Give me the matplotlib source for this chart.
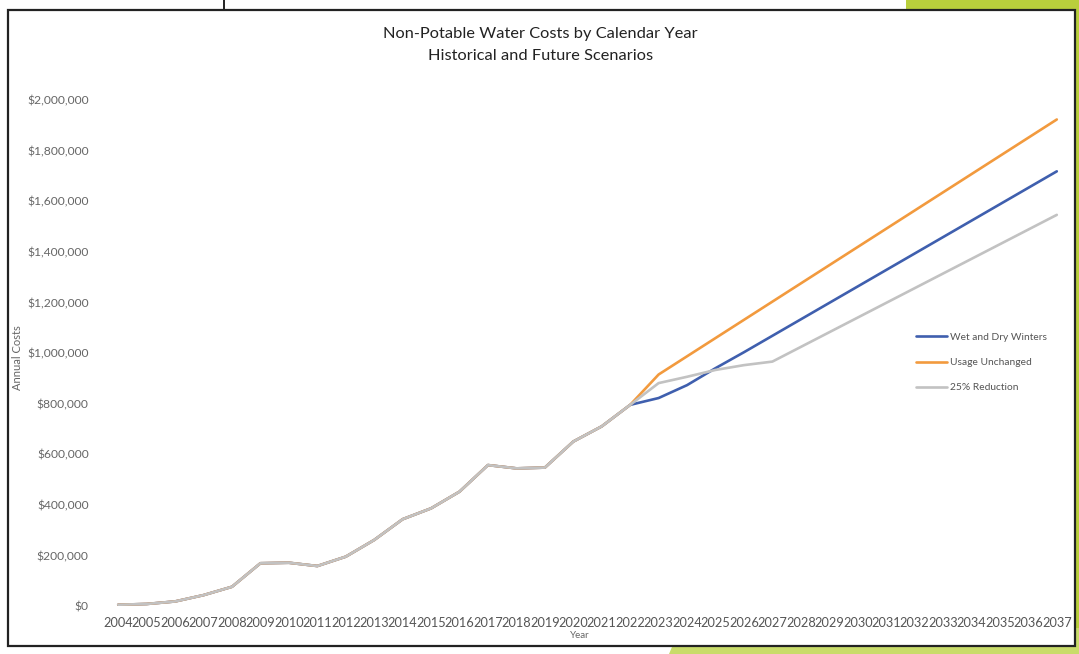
import matplotlib.pyplot as plt
from matplotlib.patches import Rectangle, Polygon
from matplotlib.ticker import FuncFormatter

years = list(range(2004, 2038))

# shared history up to 2022, then the three scenarios
historical = [5000, 8000, 18000, 43000, 76000, 169000, 171000, 158000, 195000,
              261000, 343000, 386000, 452000, 557000, 544000, 547000, 650000,
              710000, 795000]
wet_dry = [822000, 873000, 940000, 1003000, 1068000, 1133000, 1198000, 1263000,
           1328000, 1393000, 1458000, 1523000, 1588000, 1653000, 1718000]
unchanged = [915000, 987000, 1059000, 1131000, 1203000, 1275000, 1347000,
             1419000, 1491000, 1563000, 1635000, 1707000, 1779000, 1851000,
             1923000]
reduction = [881000, 906000, 933000, 952000, 966000, 1024000, 1082000, 1140000,
             1198000, 1256000, 1314000, 1372000, 1430000, 1488000, 1546000]

series = [
    ("Wet and Dry Winters", historical + wet_dry, "#3f5fae"),
    ("Usage Unchanged", historical + unchanged, "#f29a3e"),
    ("25% Reduction", historical + reduction, "#c2c2c2"),
]

plt.rcParams['font.family'] = ['Lato', 'DejaVu Sans']

fig = plt.figure(figsize=(10.79, 6.54), dpi=100)
fig.patch.set_facecolor("white")

# paper edge below / right of the printed frame
fig.patches.append(Polygon([[0.62, 0.0], [1.0, 0.0], [1.0, 0.04], [0.63, 0.04]],
                           closed=True, transform=fig.transFigure,
                           facecolor="#c9dc6a", edgecolor="none", zorder=0))
fig.patches.append(Polygon([[0.84, 1.0], [1.0, 1.0], [1.0, 0.04], [0.997, 0.04],
                            [0.997, 0.985], [0.84, 0.985]],
                           closed=True, transform=fig.transFigure,
                           facecolor="#b9cf3c", edgecolor="none", zorder=0))
fig.patches.append(Rectangle((0.0075, 0.012), 0.989, 0.973,
                             transform=fig.transFigure, facecolor="white",
                             edgecolor="#222222", linewidth=1.6, zorder=1))
fig.lines.append(plt.Line2D([0.2075, 0.2075], [0.985, 1.0],
                            transform=fig.transFigure, color="#222222", lw=1.4))

ax = fig.add_axes([0.0964, 0.0734, 0.8962, 0.7737])
ax.set_facecolor("none")
ax.set_zorder(3)

x = list(range(len(years)))
for name, vals, color in series:
    ax.plot(x, vals, color=color, lw=1.9, label=name, solid_capstyle="round")

ax.set_xlim(-0.5, len(years) - 0.5)
ax.set_ylim(0, 2000000)
ax.set_xticks(x)
ax.set_xticklabels([str(y) for y in years])
ax.set_yticks(range(0, 2000001, 200000))
ax.yaxis.set_major_formatter(FuncFormatter(lambda v, p: "${:,.0f}".format(v)))

ax.tick_params(axis="x", length=0, pad=8, labelsize=9.2, labelcolor="#555555")
ax.tick_params(axis="y", length=0, pad=11, labelsize=8.7, labelcolor="#666666")
for s in ax.spines.values():
    s.set_visible(False)

ax.set_xlabel("Year", fontsize=7, color="#666666")
ax.xaxis.set_label_coords(0.492, -0.05)
ax.set_ylabel("Annual Costs", fontsize=8, color="#666666")
ax.yaxis.set_label_coords(-0.084, 0.49)

fig.text(0.501, 0.948, "Non-Potable Water Costs by Calendar Year",
         ha="center", va="center", fontsize=11.8, color="#222222", zorder=4)
fig.text(0.501, 0.914, "Historical and Future Scenarios",
         ha="center", va="center", fontsize=11.8, color="#222222", zorder=4)

ax.legend(loc="center left", bbox_to_anchor=(0.83, 0.481), frameon=False,
          fontsize=7.4, handlelength=3.0, handletextpad=0.3, labelspacing=1.55,
          labelcolor="#555555")

fig.savefig("out.png", dpi=100)
